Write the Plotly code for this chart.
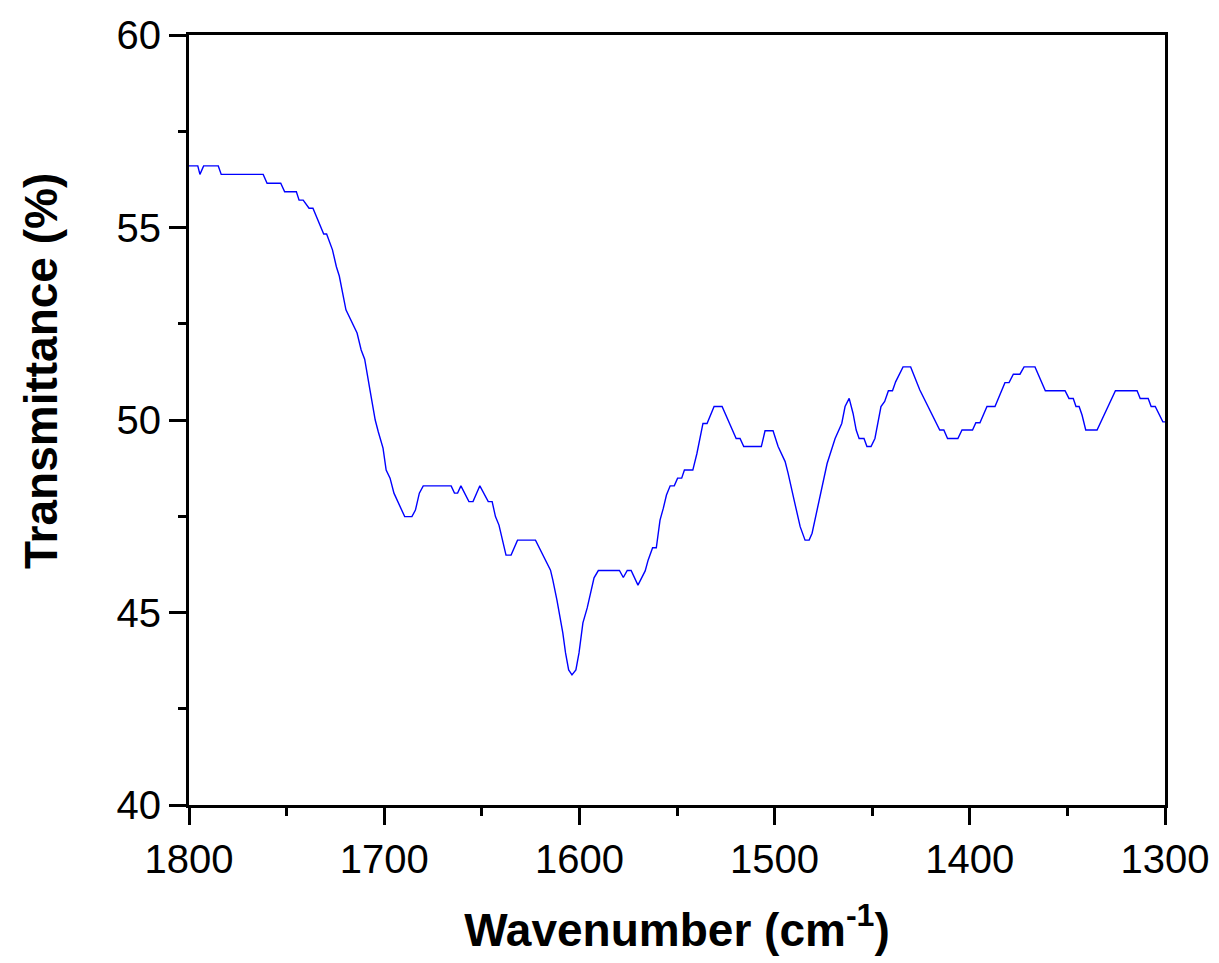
import plotly.graph_objects as go

wavenumber = [
    1800, 1795.5, 1794.4, 1792.5, 1785, 1783.5, 1762, 1760, 1753, 1751, 1745, 1743.6, 1741.5,
    1738.5, 1736.5, 1731, 1729.5, 1726.5, 1724.5, 1723, 1719.6, 1713.9, 1711.8, 1710, 1707.3,
    1704.6, 1703, 1700.6, 1699, 1697, 1695, 1689.5, 1685.8, 1684, 1682, 1680, 1665.7, 1664,
    1662.4, 1660.7, 1656.6, 1654.5, 1651, 1646.7, 1644.7, 1643, 1641.2, 1637.6, 1635, 1631.7,
    1622.5, 1614.8, 1613.6, 1611.5, 1608.5, 1607.1, 1605.5, 1603.8, 1601.8, 1600.2, 1598.2,
    1596, 1592.5, 1590.3, 1579.5, 1577.5, 1575.5, 1573.5, 1570, 1566.3, 1564.8, 1563.3, 1562.5,
    1560.6, 1558.7, 1557, 1555.4, 1553.5, 1551.4, 1549.7, 1547.6, 1546.2, 1541.9, 1539.8,
    1536.7, 1534.6, 1531, 1526.9, 1523.8, 1519.7, 1517.7, 1515.8, 1506.8, 1504.9, 1500.8,
    1498.2, 1494.6, 1493.1, 1490, 1486.9, 1484.4, 1482.3, 1480.8, 1479.3, 1476.7, 1473.1,
    1469, 1465.6, 1463.9, 1461.8, 1459.8, 1458.2, 1456.7, 1454.2, 1452.7, 1450.6, 1448.6,
    1445.5, 1443.6, 1441.7, 1439.6, 1438, 1434.2, 1430.3, 1425.6, 1415.4, 1413.3, 1411.4,
    1406.1, 1404, 1398.6, 1396.9, 1394.8, 1391.2, 1387.1, 1382, 1379.9, 1377.7, 1374.3,
    1372.2, 1366.6, 1361.3, 1351.2, 1349.2, 1347, 1345.6, 1344, 1342.5, 1340.6, 1334.8,
    1325.4, 1314.3, 1312.7, 1308.6, 1307.1, 1305, 1301.1, 1300,
]
transmittance = [
    56.6, 56.6, 56.38, 56.6, 56.6, 56.38, 56.38, 56.15, 56.15, 55.93, 55.93, 55.71, 55.71,
    55.5, 55.5, 54.83, 54.83, 54.42, 53.98, 53.74, 52.86, 52.26, 51.82, 51.58, 50.78,
    50.0, 49.69, 49.27, 48.70, 48.49, 48.1, 47.49, 47.49, 47.66, 48.1, 48.29, 48.29, 48.1,
    48.1, 48.29, 47.88, 47.88, 48.29, 47.88, 47.88, 47.49, 47.27, 46.49, 46.49, 46.88,
    46.88, 46.1, 45.84, 45.32, 44.47, 43.95, 43.51, 43.38, 43.51, 43.95, 44.73,
    45.12, 45.9, 46.09, 46.09, 45.91, 46.09, 46.09, 45.71, 46.08, 46.36, 46.54, 46.68,
    46.68, 47.4, 47.71, 48.05, 48.29, 48.29, 48.49, 48.49, 48.70, 48.70, 49.13,
    49.91, 49.91, 50.35, 50.35, 50.0, 49.52, 49.52, 49.31, 49.31, 49.72, 49.72,
    49.31, 48.92, 48.62, 47.92, 47.23, 46.88, 46.88, 47.06, 47.4, 48.0, 48.87,
    49.52, 49.91, 50.35, 50.56, 50.17, 49.74, 49.52, 49.52, 49.31, 49.31, 49.52,
    50.35, 50.48, 50.76, 50.76, 50.99, 51.38, 51.38, 50.78, 49.74, 49.74, 49.52,
    49.52, 49.74, 49.74, 49.93, 49.93, 50.35, 50.35, 50.97, 50.97, 51.19, 51.19,
    51.38, 51.38, 50.76, 50.76, 50.56, 50.56, 50.35, 50.35, 50.13, 49.74, 49.74,
    50.76, 50.76, 50.56, 50.56, 50.35, 50.35, 49.95, 49.95,
]

x_ticks = [1800, 1700, 1600, 1500, 1400, 1300]
y_ticks = [40, 45, 50, 55, 60]

fig = go.Figure()
fig.add_trace(go.Scatter(
    x=wavenumber, y=transmittance, mode="lines",
    line=dict(color="#0000FF", width=1.4), showlegend=False,
))

font_family = "Liberation Sans, Arial, sans-serif"

fig.update_layout(
    width=1219, height=963,
    margin=dict(l=189, r=54, t=35, b=158, autoexpand=False),
    paper_bgcolor="white", plot_bgcolor="white",
    font=dict(family=font_family, color="black"),
)
fig.update_xaxes(
    range=[1800, 1300], tickvals=x_ticks, ticktext=[str(v) for v in x_ticks],
    ticks="outside", ticklen=17, tickwidth=3, tickcolor="black",
    minor=dict(tickvals=[1750, 1650, 1550, 1450, 1350], ticks="outside", ticklen=8, tickwidth=3, tickcolor="black"),
    tickfont=dict(size=40, family=font_family),
    showline=True, linewidth=3, linecolor="black", mirror=True,
    showgrid=False, zeroline=False,
    title=dict(text="<b>Wavenumber (cm<sup>-1</sup>)</b>", font=dict(size=46, family=font_family), standoff=34),
    automargin=False,
)
fig.update_yaxes(
    range=[40, 60], tickvals=y_ticks, ticktext=[str(v) for v in y_ticks],
    ticks="outside", ticklen=17, tickwidth=3, tickcolor="black",
    minor=dict(tickvals=[42.5, 47.5, 52.5, 57.5], ticks="outside", ticklen=8, tickwidth=3, tickcolor="black"),
    tickfont=dict(size=40, family=font_family),
    showline=True, linewidth=3, linecolor="black", mirror=True,
    showgrid=False, zeroline=False,
    automargin=False,
)
fig.add_annotation(
    text="<b>Transmittance (%)</b>", textangle=-90,
    xref="paper", yref="paper", x=0, y=(805 - 371) / 770,
    xanchor="center", yanchor="middle", xshift=-148, showarrow=False,
    font=dict(size=46, family=font_family, color="black"),
)

fig.write_html("out.html")
